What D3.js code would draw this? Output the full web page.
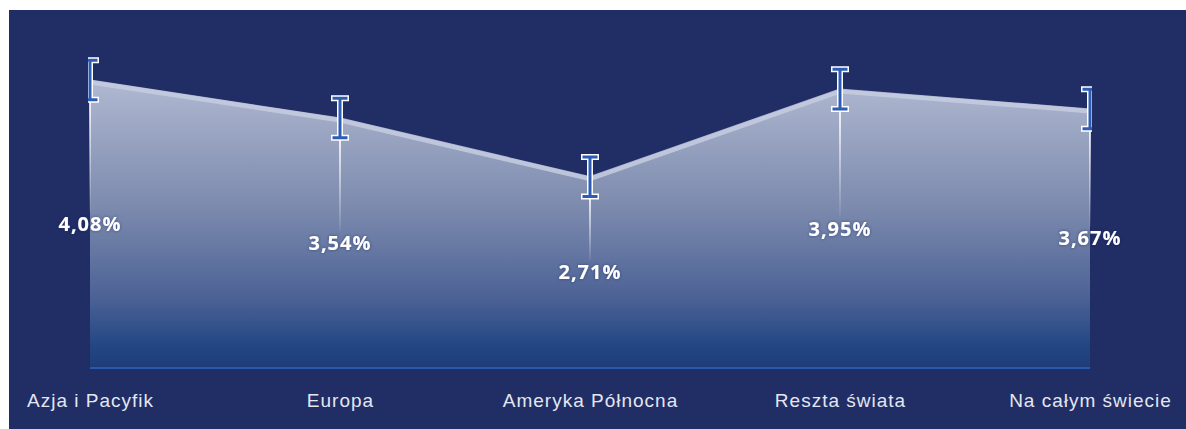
<!DOCTYPE html>
<html>
<head>
<meta charset="utf-8">
<script src="https://cdn.jsdelivr.net/npm/d3@7"></script>
<style>
  html, body { margin: 0; padding: 0; background: #ffffff; }
  svg { display: block; }
</style>
</head>
<body>
<svg id="chart" width="1186" height="429"></svg>
<script>
// Regional growth rates with error margins
const categories = ["Azja i Pacyfik", "Europa", "Ameryka Północna", "Reszta świata", "Na całym świecie"];
const values = [4.08, 3.54, 2.71, 3.95, 3.67];
const errors = [0.28, 0.28, 0.28, 0.28, 0.28];
const valueLabels = ["4,08%", "3,54%", "2,71%", "3,95%", "3,67%"];

const W = 1186, H = 429;
const svg = d3.select("#chart");
const defs = svg.append("defs");

// Panel background
svg.append("rect")
  .attr("x", 9).attr("y", 10)
  .attr("width", W - 9).attr("height", H - 10)
  .attr("fill", "#212d65");

const x = d3.scalePoint().domain(categories).range([90, 1090]);
const y = d3.scaleLinear().domain([0, 5]).range([368, 15]);

const data = categories.map((c, i) => ({ c, v: values[i], e: errors[i], label: valueLabels[i] }));

// Area gradient: pale at the top, deep blue towards the baseline
const grad = defs.append("linearGradient")
  .attr("id", "areaGrad")
  .attr("gradientUnits", "userSpaceOnUse")
  .attr("x1", 0).attr("x2", 0)
  .attr("y1", y(4.08)).attr("y2", y(0));
[[0, "#b0b9d1"], [0.45, "#7b89ad"], [0.75, "#4d6396"], [0.92, "#234784"], [1, "#1f3c7a"]]
  .forEach(([o, c]) => grad.append("stop").attr("offset", o).attr("stop-color", c));

const area = d3.area()
  .x(d => x(d.c))
  .y0(y(0))
  .y1(d => y(d.v));
svg.append("path").datum(data)
  .attr("d", area)
  .attr("fill", "url(#areaGrad)");

// Light outline along the top of the area
const line = d3.line().x(d => x(d.c)).y(d => y(d.v) + 2);
svg.append("path").datum(data)
  .attr("d", line)
  .attr("fill", "none")
  .attr("stroke", "#c5cce0")
  .attr("stroke-width", 5)
  .attr("stroke-opacity", 0.85);

// Baseline axis
svg.append("line")
  .attr("x1", x(categories[0])).attr("x2", x(categories[categories.length - 1]))
  .attr("y1", y(0)).attr("y2", y(0))
  .attr("stroke", "#2a5aad").attr("stroke-width", 2);

// Leader lines from the error bars down to the labels
const leadGrad = defs.append("linearGradient")
  .attr("id", "leadGrad")
  .attr("x1", 0).attr("x2", 0).attr("y1", 0).attr("y2", 1)
  .attr("gradientUnits", "objectBoundingBox");
leadGrad.append("stop").attr("offset", 0).attr("stop-color", "#ffffff").attr("stop-opacity", 0.85);
leadGrad.append("stop").attr("offset", 1).attr("stop-color", "#ffffff").attr("stop-opacity", 0.05);

svg.append("g").selectAll("rect").data(data).join("rect")
  .attr("x", d => x(d.c) - 1)
  .attr("y", d => y(d.v - d.e))
  .attr("width", 2)
  .attr("height", d => Math.max(0, y(d.v / 2) - 12 - y(d.v - d.e)))
  .attr("fill", "url(#leadGrad)");

// Error bars, clipped to the plot width
defs.append("clipPath").attr("id", "plotClip")
  .append("rect").attr("x", 88).attr("y", 0).attr("width", 1004).attr("height", H);

const eb = svg.append("g").attr("clip-path", "url(#plotClip)");
const capW = 6;
function ebPath(d) {
  const cx = x(d.c), t = y(d.v + d.e), b = y(d.v - d.e);
  return `M${cx - capW},${t}H${cx + capW}M${cx},${t}V${b}M${cx - capW},${b}H${cx + capW}`;
}
eb.selectAll("path.halo").data(data).join("path")
  .attr("class", "halo")
  .attr("d", ebPath)
  .attr("fill", "none")
  .attr("stroke", "#ffffff")
  .attr("stroke-width", 6)
  .attr("stroke-linecap", "square");
eb.selectAll("path.bar").data(data).join("path")
  .attr("class", "bar")
  .attr("d", ebPath)
  .attr("fill", "none")
  .attr("stroke", "#2e5cb4")
  .attr("stroke-width", 3)
  .attr("stroke-linecap", "square");

// Value labels, placed at mid-height of each point
const glow = defs.append("filter").attr("id", "glow")
  .attr("x", "-20%").attr("y", "-40%").attr("width", "140%").attr("height", "180%");
glow.append("feGaussianBlur").attr("in", "SourceAlpha").attr("stdDeviation", 1.5).attr("result", "b");
glow.append("feFlood").attr("flood-color", "#1c2a5e").attr("flood-opacity", 0.6);
glow.append("feComposite").attr("in2", "b").attr("operator", "in").attr("result", "s");
const fm = glow.append("feMerge");
fm.append("feMergeNode").attr("in", "s");
fm.append("feMergeNode").attr("in", "SourceGraphic");

svg.append("g").selectAll("text").data(data).join("text")
  .attr("x", d => x(d.c))
  .attr("y", d => y(d.v / 2))
  .attr("dy", "0.35em")
  .attr("text-anchor", "middle")
  .attr("font-family", "'Open Sans', 'DejaVu Sans', sans-serif")
  .attr("font-weight", 700)
  .attr("font-size", 20)
  .attr("letter-spacing", 1)
  .attr("fill", "#ffffff")
  .attr("filter", "url(#glow)")
  .text(d => d.label);

// Category axis labels
const xAxis = d3.axisBottom(x).tickSize(0).tickPadding(0);
const gx = svg.append("g").attr("transform", `translate(0, ${y(0)})`).call(xAxis);
gx.select(".domain").remove();
gx.selectAll("text")
  .attr("y", 32)
  .attr("dy", "0.35em")
  .attr("font-family", "'Liberation Sans', Arial, sans-serif")
  .attr("font-size", 19)
  .attr("letter-spacing", 1)
  .attr("fill", "#e3e7f1")
  .attr("text-anchor", "middle");
</script>
</body>
</html>
